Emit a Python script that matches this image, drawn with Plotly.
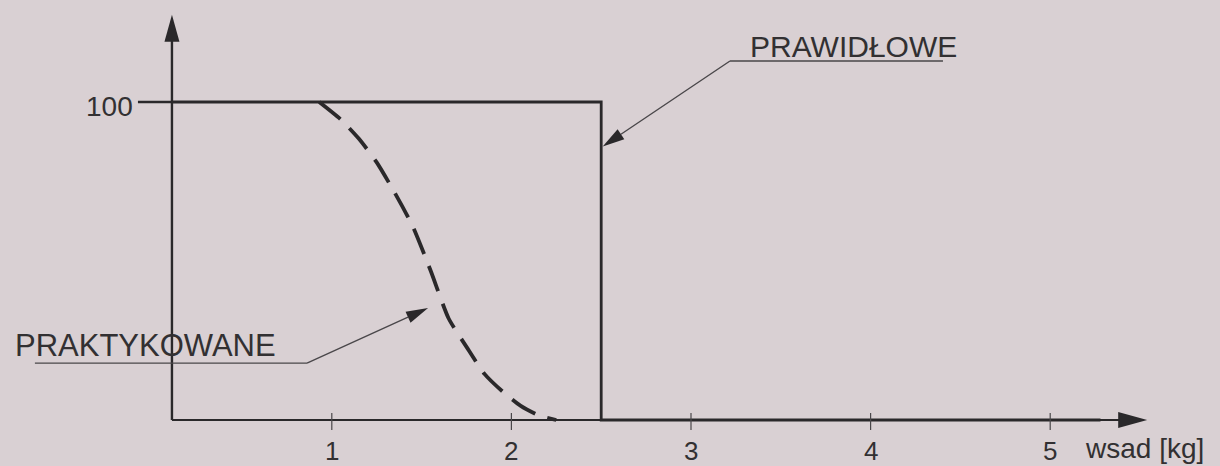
import math
import plotly.graph_objects as go

# ---- data -------------------------------------------------------------
# horizontal axis: charge mass [kg]
x_ticks = [1, 2, 3, 4, 5]
x_tick_labels = ["1", "2", "3", "4", "5"]
x_axis_title = "wsad [kg]"
# vertical axis: single marked level
y_tick = 100
y_tick_label = "100"

# correct loading: full level up to the nominal charge, then nothing
proper_x = [0.11, 2.5, 2.5, 5.28]
proper_y = [100, 100, 0, 0]
proper_label = "PRAWIDŁOWE"

# loading as practised: gradual fall-off
practised_x = [0.93, 1.05, 1.15, 1.25, 1.35, 1.45, 1.55, 1.65, 1.75,
               1.85, 1.95, 2.05, 2.15, 2.25]
practised_y = [100, 94.5, 88.5, 81, 71.5, 61, 47, 32, 23,
               14.5, 9, 4.5, 1.5, 0]
practised_label = "PRAKTYKOWANE"

# ---- layout geometry --------------------------------------------------
W, H = 1220, 466
X_RANGE = [-0.8474, 5.9454]
Y_RANGE = [-14.465, 132.075]
SX = W / (X_RANGE[1] - X_RANGE[0])   # px per kg
SY = H / (Y_RANGE[1] - Y_RANGE[0])   # px per unit of y

AXIS_X0 = 0.11        # vertical axis position
X_AXIS_END = 5.54     # tip of horizontal axis arrow
Y_AXIS_END = 127.4    # tip of vertical axis arrow

BG = "#d9d0d3"
INK = "#2a282a"
TEXT = "#323032"
THIN = "#4a474a"
FONT = "Liberation Sans, Arial, sans-serif"


def arrow_head(tip_x, tip_y, from_x, from_y, length, width):
    """Filled triangle (svg path in data units) pointing from (from) to (tip)."""
    dxp = (tip_x - from_x) * SX
    dyp = (tip_y - from_y) * SY
    n = math.hypot(dxp, dyp)
    ux, uy = dxp / n, dyp / n
    px, py = -uy, ux
    bx = tip_x - ux * length / SX
    by = tip_y - uy * length / SY
    c1 = (bx + px * width / 2 / SX, by + py * width / 2 / SY)
    c2 = (bx - px * width / 2 / SX, by - py * width / 2 / SY)
    return (f"M{tip_x},{tip_y} L{c1[0]},{c1[1]} L{c2[0]},{c2[1]} Z",
            (bx, by))


fig = go.Figure()

# axes
fig.add_trace(go.Scatter(x=[AXIS_X0, AXIS_X0], y=[0, Y_AXIS_END - 20 / SY],
                         mode="lines", line=dict(color=INK, width=2.4),
                         hoverinfo="skip", showlegend=False))
fig.add_trace(go.Scatter(x=[AXIS_X0, X_AXIS_END - 20 / SX], y=[0, 0],
                         mode="lines", line=dict(color=INK, width=2.0),
                         hoverinfo="skip", showlegend=False))

# curves
fig.add_trace(go.Scatter(x=practised_x, y=practised_y, mode="lines",
                         line=dict(color=INK, width=3.8, dash="27px,13px",
                                   shape="spline", smoothing=0.6),
                         hoverinfo="skip", showlegend=False))
fig.add_trace(go.Scatter(x=proper_x, y=proper_y, mode="lines",
                         line=dict(color=INK, width=2.8),
                         hoverinfo="skip", showlegend=False))

shapes = []
# axis arrow heads
p, _ = arrow_head(AXIS_X0, Y_AXIS_END, AXIS_X0, 0, 27, 15)
shapes.append(dict(type="path", path=p, xref="x", yref="y",
                   fillcolor=INK, line=dict(width=0)))
p, _ = arrow_head(X_AXIS_END, 0, AXIS_X0, 0, 29, 16)
shapes.append(dict(type="path", path=p, xref="x", yref="y",
                   fillcolor=INK, line=dict(width=0)))

# tick marks
for t in x_ticks:
    shapes.append(dict(type="line", xref="x", yref="y",
                       x0=t, x1=t, y0=7 / SY, y1=-10 / SY,
                       line=dict(color=THIN, width=1.2)))
shapes.append(dict(type="line", xref="x", yref="y",
                   x0=AXIS_X0 - 34 / SX, x1=AXIS_X0, y0=y_tick, y1=y_tick,
                   line=dict(color=INK, width=2.6)))


# callout leaders
def leader(under_x0, under_x1, under_y, tip_x, tip_y, elbow_x):
    p, base = arrow_head(tip_x, tip_y, elbow_x, under_y, 22, 12)
    shapes.append(dict(type="path", xref="x", yref="y",
                       path=f"M{under_x0},{under_y} L{under_x1},{under_y} "
                            f"M{elbow_x},{under_y} L{base[0]},{base[1]}",
                       line=dict(color=THIN, width=1.4)))
    shapes.append(dict(type="path", path=p, xref="x", yref="y",
                       fillcolor=INK, line=dict(width=0)))


leader(3.217, 4.403, 112.9, 2.5 + 1.5 / SX, 86.0, 3.217)
leader(-0.653, 0.862, 17.9, 1.536, 35.2, 0.862)

annotations = []
for t, lab in zip(x_ticks, x_tick_labels):
    annotations.append(dict(x=t, y=-9.6, xref="x", yref="y", text=lab,
                            showarrow=False, xanchor="center",
                            yanchor="middle",
                            font=dict(family=FONT, size=26, color=TEXT)))
annotations.append(dict(x=5.183, y=-8.9, xref="x", yref="y",
                        text=x_axis_title, showarrow=False,
                        xanchor="left", yanchor="middle",
                        font=dict(family=FONT, size=28, color=TEXT)))
annotations.append(dict(x=AXIS_X0 - 37 / SX, y=y_tick - 1.5, xref="x",
                        yref="y", text=y_tick_label, showarrow=False,
                        xanchor="right", yanchor="middle",
                        font=dict(family=FONT, size=28, color=TEXT)))
annotations.append(dict(x=3.905, y=117.5, xref="x", yref="y",
                        text=proper_label, showarrow=False,
                        xanchor="center", yanchor="middle",
                        font=dict(family=FONT, size=30, color=TEXT)))
annotations.append(dict(x=-0.037, y=23.5, xref="x", yref="y",
                        text=practised_label, showarrow=False,
                        xanchor="center", yanchor="middle",
                        font=dict(family=FONT, size=31, color=TEXT)))

fig.update_layout(
    width=W, height=H,
    margin=dict(l=0, r=0, t=0, b=0),
    paper_bgcolor=BG, plot_bgcolor=BG,
    xaxis=dict(range=X_RANGE, visible=False, fixedrange=True),
    yaxis=dict(range=Y_RANGE, visible=False, fixedrange=True),
    shapes=shapes, annotations=annotations,
    showlegend=False,
)

fig.write_html("out.html", config={"displayModeBar": False})
